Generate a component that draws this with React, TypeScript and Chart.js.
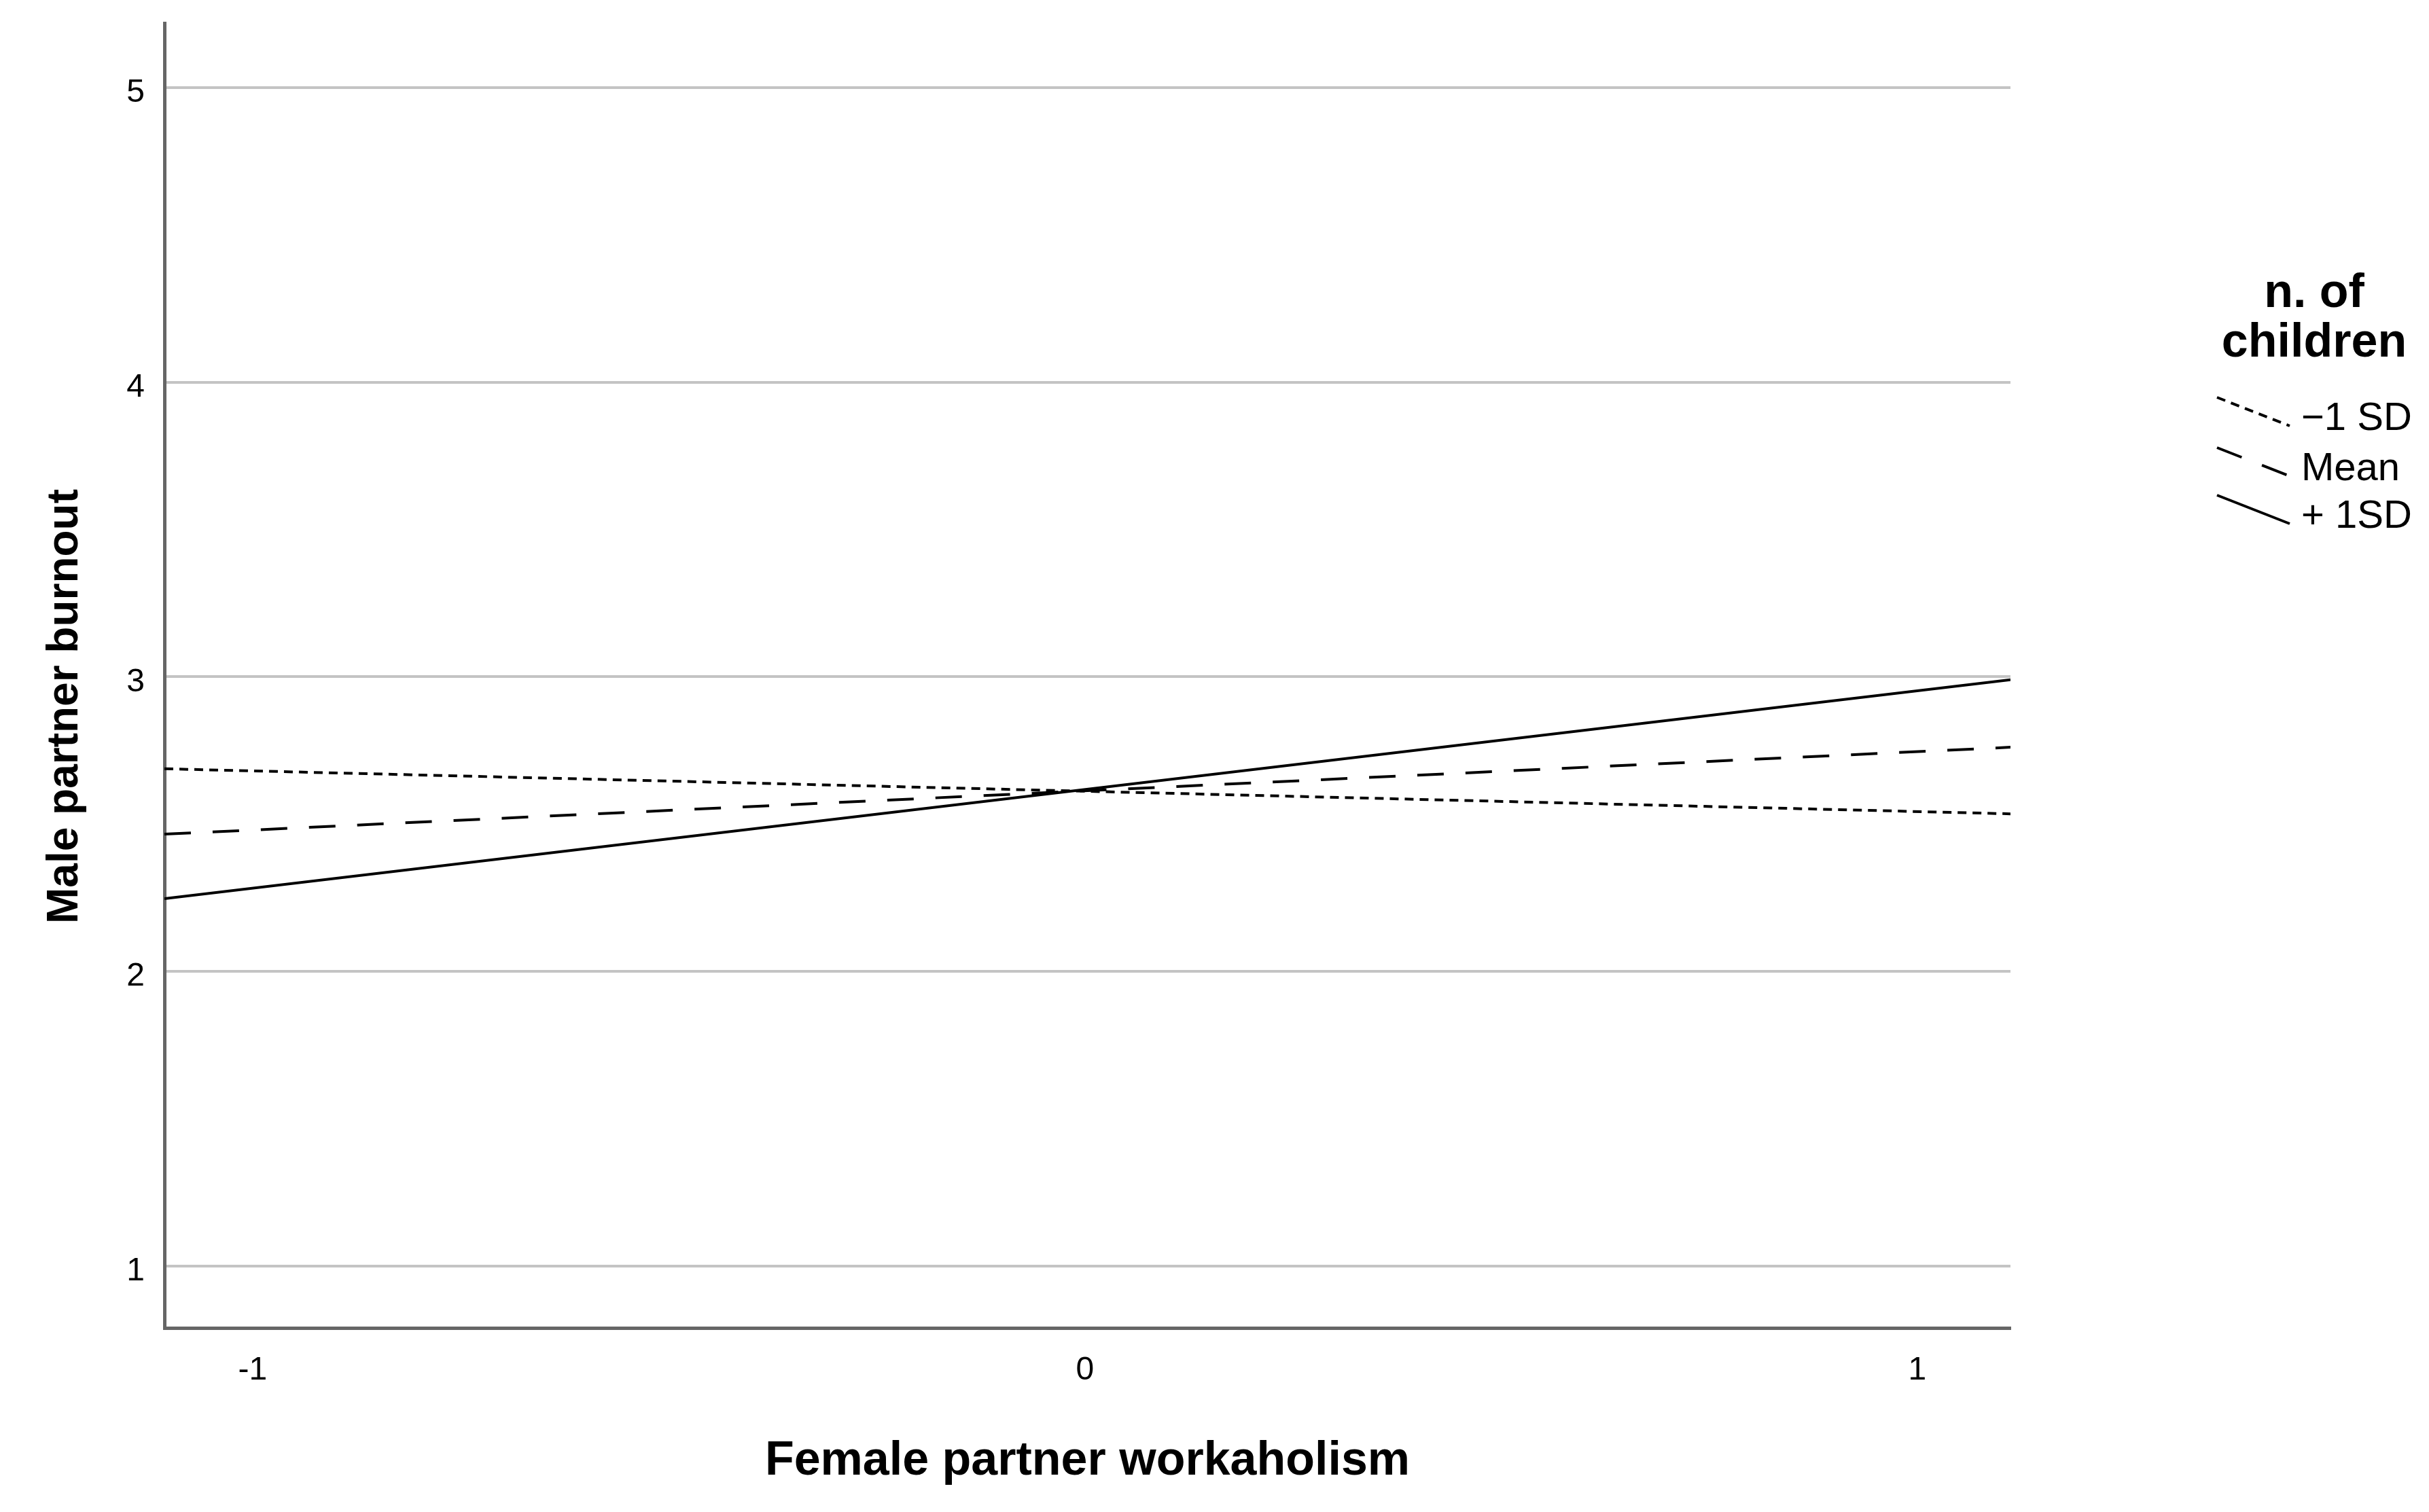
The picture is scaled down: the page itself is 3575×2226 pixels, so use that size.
import React, { useEffect, useRef } from "react";
import { Chart, registerables } from "chart.js";

Chart.register(...registerables);

// ---- data ----
const xValues = [-1.106, 1.112];
const minusOneSD = [2.688, 2.535];
const meanValues = [2.466, 2.761];
const plusOneSD = [2.247, 2.99];
const seriesLabels = ["\u22121 SD", "Mean", "+ 1SD"];
const yTicks = [1, 2, 3, 4, 5];
const xTicks = [-1, 0, 1];
const xTitle = "Female partner workaholism";
const yTitle = "Male partner burnout";
const legendTitle = ["n. of", "children"];

const FONT = "'Liberation Sans', Arial, Helvetica, sans-serif";
const dashes = [[13, 9], [39, 32], []];

const W = 3575;
const H = 2226;

const textPlugin = {
  id: "textPlugin",
  afterDraw(chart: any) {
    const ctx = chart.ctx as CanvasRenderingContext2D;
    const area = chart.chartArea;
    ctx.save();
    ctx.fillStyle = "#000";
    // x title
    ctx.font = `bold 70px ${FONT}`;
    ctx.textAlign = "center";
    ctx.textBaseline = "alphabetic";
    ctx.fillText(xTitle, (area.left + area.right) / 2, 2171);
    // y title
    ctx.save();
    ctx.translate(114, 1040);
    ctx.rotate(-Math.PI / 2);
    ctx.font = `bold 64px ${FONT}`;
    ctx.fillText(yTitle, 0, 0);
    ctx.restore();
    // legend title
    ctx.font = `bold 70px ${FONT}`;
    ctx.textAlign = "center";
    ctx.fillText(legendTitle[0], 3406, 452);
    ctx.fillText(legendTitle[1], 3406, 525);
    // legend items
    const baselines = [633, 707, 777];
    ctx.font = `58px ${FONT}`;
    ctx.textAlign = "left";
    seriesLabels.forEach((lab, i) => {
      const b = baselines[i];
      const c = b - 22;
      ctx.save();
      ctx.strokeStyle = "#000";
      ctx.lineWidth = 4;
      ctx.setLineDash(dashes[i]);
      ctx.beginPath();
      ctx.moveTo(3263, c - 26);
      ctx.lineTo(3370, c + 16);
      ctx.stroke();
      ctx.restore();
      ctx.fillText(lab, 3387, b);
    });
    ctx.restore();
  },
};

export default function App() {
  const ref = useRef<HTMLCanvasElement | null>(null);

  useEffect(() => {
    document.body.style.margin = "0";
    const canvas = ref.current;
    if (!canvas) return;
    const series = [minusOneSD, meanValues, plusOneSD];
    const chart = new Chart(canvas, {
      type: "line",
      data: {
        datasets: series.map((vals, i) => ({
          label: seriesLabels[i],
          data: xValues.map((x, j) => ({ x, y: vals[j] })),
          borderColor: "#000",
          borderWidth: 4,
          borderDash: dashes[i],
          pointRadius: 0,
          fill: false,
          tension: 0,
        })),
      },
      options: {
        animation: false,
        responsive: false,
        devicePixelRatio: 1,
        layout: { padding: { left: 0, right: W - 2959, top: 34, bottom: 0 } },
        plugins: {
          legend: { display: false },
          tooltip: { enabled: false },
          title: { display: false },
        },
        scales: {
          x: {
            type: "linear",
            min: xValues[0],
            max: xValues[1],
            afterFit: (s: any) => {
              s.height = H - 1955;
              s.paddingLeft = 0;
              s.paddingRight = 0;
            },
            afterBuildTicks: (s: any) => {
              s.ticks = xTicks.map((v) => ({ value: v }));
            },
            grid: { display: false, drawTicks: false },
            border: { display: true, color: "#666", width: 5 },
            ticks: {
              font: { family: FONT, size: 48 },
              color: "#000",
              padding: 34,
              maxRotation: 0,
              callback: (v: any) => String(v),
            },
          },
          y: {
            type: "linear",
            min: 0.79,
            max: 5.219,
            afterFit: (s: any) => {
              s.width = 242;
              s.paddingTop = 0;
              s.paddingBottom = 0;
            },
            afterBuildTicks: (s: any) => {
              s.ticks = yTicks.map((v) => ({ value: v }));
            },
            grid: { color: "#c4c4c4", lineWidth: 4, drawTicks: false },
            border: { display: true, color: "#666", width: 5 },
            ticks: {
              font: { family: FONT, size: 48 },
              color: "#000",
              padding: 29,
              labelOffset: 8,
              callback: (v: any) => String(v),
            },
          },
        },
      },
      plugins: [textPlugin],
    });
    return () => chart.destroy();
  }, []);

  return (
    <div style={{ width: W, height: H, background: "#fff" }}>
      <canvas ref={ref} width={W} height={H} style={{ display: "block", width: W, height: H }} />
    </div>
  );
}
